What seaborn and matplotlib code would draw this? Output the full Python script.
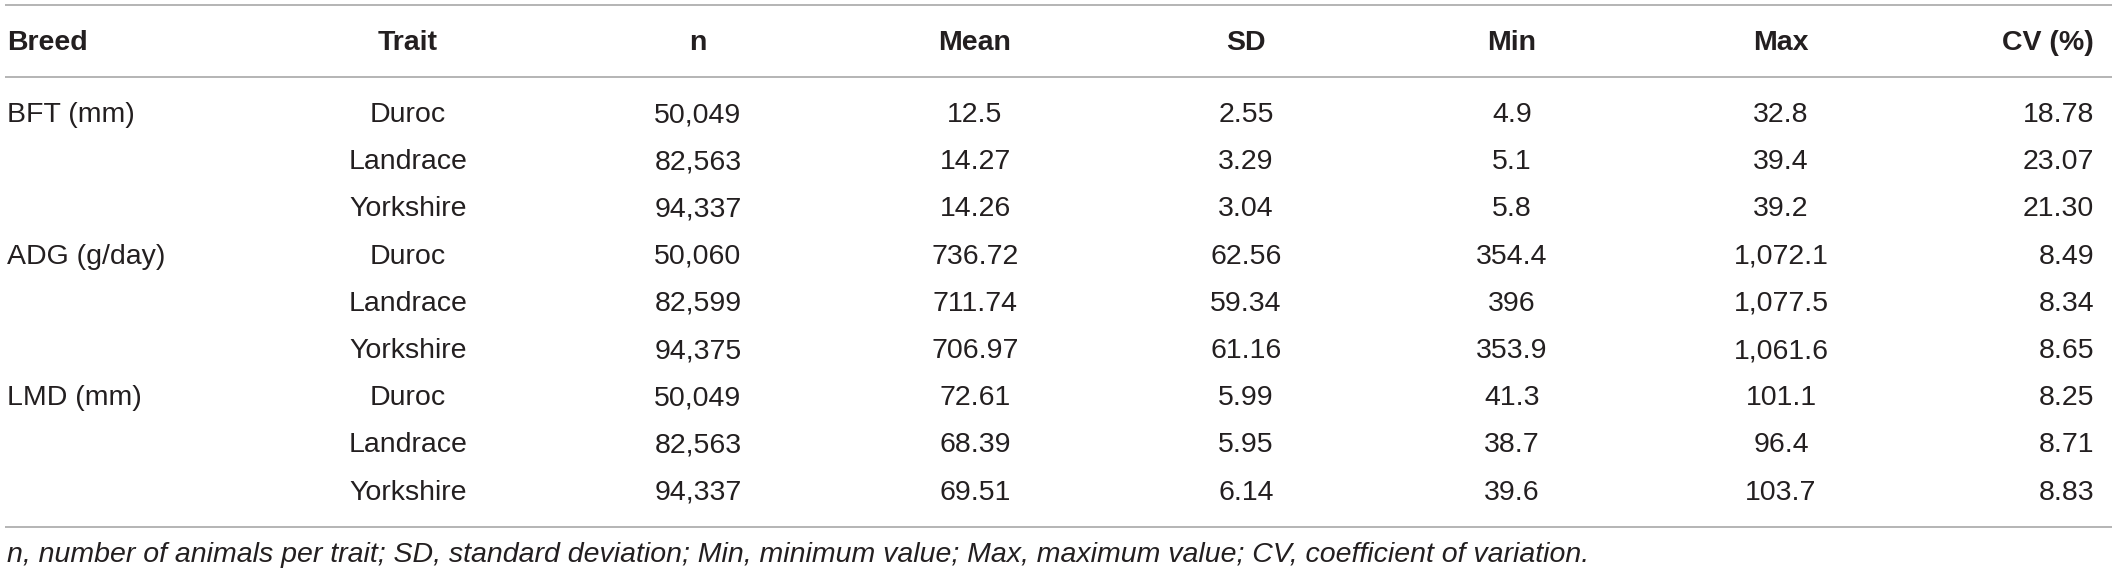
import pandas as pd
import matplotlib.pyplot as plt
import seaborn as sns

# Table data
breeds = ["BFT (mm)", "", "", "ADG (g/day)", "", "", "LMD (mm)", "", ""]
traits = ["Duroc", "Landrace", "Yorkshire"] * 3
n_vals = ["50,049", "82,563", "94,337", "50,060", "82,599", "94,375", "50,049", "82,563", "94,337"]
means = ["12.5", "14.27", "14.26", "736.72", "711.74", "706.97", "72.61", "68.39", "69.51"]
sds = ["2.55", "3.29", "3.04", "62.56", "59.34", "61.16", "5.99", "5.95", "6.14"]
mins = ["4.9", "5.1", "5.8", "354.4", "396", "353.9", "41.3", "38.7", "39.6"]
maxs = ["32.8", "39.4", "39.2", "1,072.1", "1,077.5", "1,061.6", "101.1", "96.4", "103.7"]
cvs = ["18.78", "23.07", "21.30", "8.49", "8.34", "8.65", "8.25", "8.71", "8.83"]
headers = ["Breed", "Trait", "n", "Mean", "SD", "Min", "Max", "CV (%)"]
footnote = ("n, number of animals per trait; SD, standard deviation; Min, minimum value; "
            "Max, maximum value; CV, coefficient of variation.")

df = pd.DataFrame({
    "Breed": breeds, "Trait": traits, "n": n_vals, "Mean": means,
    "SD": sds, "Min": mins, "Max": maxs, "CV (%)": cvs,
})

# Layout (pixels)
W, H = 2118, 575
col_x = [7, 408, 698, 975, 1246, 1512, 1781, 2094]
col_ha = ["left", "center", "center", "center", "center", "center", "center", "right"]
header_y = 43
row_y0, row_step = 115, 47.2
rule_y = [5, 77, 527]
text_color = "#231f20"
rule_color = "#a0a0a0"

sns.set_theme(style="white")
plt.rcParams["font.family"] = ["Liberation Sans", "DejaVu Sans"]

fig = plt.figure(figsize=(W / 100, H / 100), dpi=100)
ax = fig.add_axes([0, 0, 1, 1])
ax.set_xlim(0, W)
ax.set_ylim(H, 0)
ax.axis("off")

# horizontal rules
for y in rule_y:
    ax.plot([5, 2112], [y, y], color=rule_color, lw=1.1, solid_capstyle="butt")

for x, ha, h in zip(col_x, col_ha, headers):
    ax.text(x, header_y, h, ha=ha, va="center", fontsize=20.5,
            fontweight="bold", color=text_color)

for i, row in df.iterrows():
    y = row_y0 + i * row_step
    for x, ha, col in zip(col_x, col_ha, df.columns):
        ax.text(x, y, row[col], ha=ha, va="center", fontsize=20.5, color=text_color)

ax.text(7, 555, footnote, ha="left", va="center", fontsize=20.5,
        fontstyle="italic", color=text_color)

fig.savefig("out.png", dpi=100)
plt.close(fig)
